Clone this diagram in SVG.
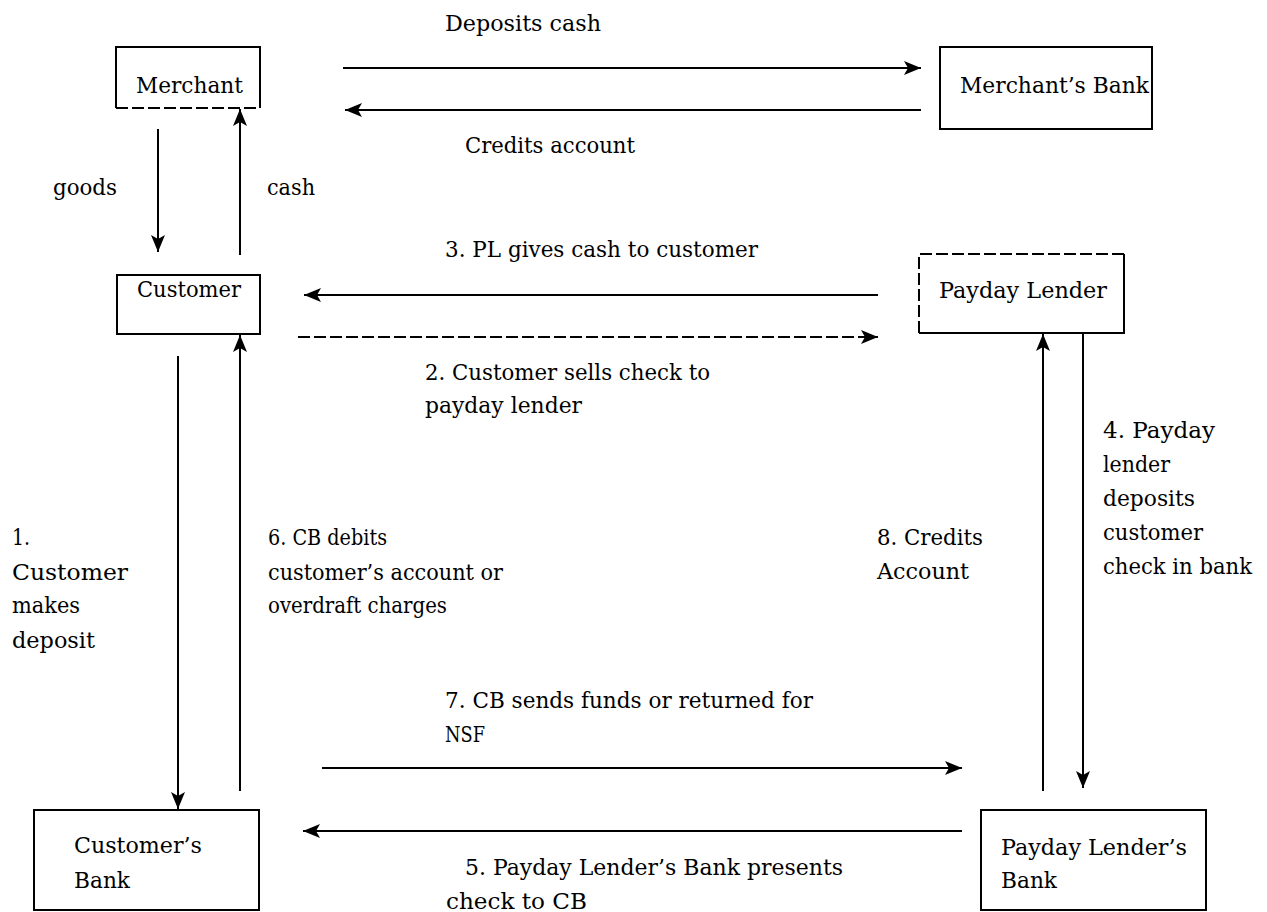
<svg xmlns="http://www.w3.org/2000/svg" width="1267" height="912" viewBox="0 0 1267 912">
<style>
.bg{fill:#fff}
.box{fill:#fff;stroke:#000;stroke-width:2}
.ln{fill:none;stroke:#000;stroke-width:2}
.dash{stroke-dasharray:12 4}
.arr{fill:none;stroke:#000;stroke-width:2;marker-end:url(#ah)}
text{font-family:"DejaVu Serif","Liberation Serif",serif;font-size:22.5px;fill:#000}
</style>
<defs>
<marker id="ah" markerUnits="userSpaceOnUse" markerWidth="18" markerHeight="14" refX="17" refY="7" orient="auto">
<path d="M0,0 L17,7 L0,14 L4,7 z" fill="#000"/>
</marker>
</defs>
<rect class="bg" x="0" y="0" width="1267" height="912"/>
<g id="merchant">
<path class="ln" d="M116,108 L116,47 L260,47 L260,108"/>
<line class="ln dash" x1="116" y1="108" x2="260" y2="108"/>
<text x="136" y="93" textLength="107" lengthAdjust="spacingAndGlyphs">Merchant</text>
</g>
<g id="merchants-bank">
<rect class="box" x="940" y="47" width="212" height="82"/>
<text x="960" y="93" textLength="189" lengthAdjust="spacingAndGlyphs">Merchant’s Bank</text>
</g>
<g id="customer">
<rect class="box" x="117" y="275" width="143" height="59"/>
<text x="137" y="297" textLength="104" lengthAdjust="spacingAndGlyphs">Customer</text>
</g>
<g id="payday-lender">
<path class="ln" d="M1124,254 L1124,333 L919,333"/>
<path class="ln dash" d="M919,333 L919,254 L1124,254"/>
<text x="939" y="298" textLength="168" lengthAdjust="spacingAndGlyphs">Payday Lender</text>
</g>
<g id="customers-bank">
<rect class="box" x="34" y="810" width="225" height="100"/>
<text x="74" y="853" textLength="128" lengthAdjust="spacingAndGlyphs">Customer’s</text>
<text x="74" y="888" textLength="56" lengthAdjust="spacingAndGlyphs">Bank</text>
</g>
<g id="payday-lenders-bank">
<rect class="box" x="981" y="810" width="225" height="100"/>
<text x="1001" y="855" textLength="186" lengthAdjust="spacingAndGlyphs">Payday Lender’s</text>
<text x="1001" y="888" textLength="56" lengthAdjust="spacingAndGlyphs">Bank</text>
</g>
<g id="connectors">
<line class="arr" x1="343" y1="68" x2="921" y2="68"/>
<line class="arr" x1="921" y1="110" x2="345" y2="110"/>
<line class="arr" x1="158" y1="129" x2="158" y2="252"/>
<line class="arr" x1="240" y1="255" x2="240" y2="109"/>
<line class="arr" x1="878" y1="295" x2="304" y2="295"/>
<line class="arr dash" x1="298" y1="337" x2="878" y2="337"/>
<line class="arr" x1="178" y1="356" x2="178" y2="809"/>
<line class="arr" x1="240" y1="791" x2="240" y2="335"/>
<line class="arr" x1="1043" y1="791" x2="1043" y2="334"/>
<line class="arr" x1="1083" y1="334" x2="1083" y2="788"/>
<line class="arr" x1="322" y1="768" x2="962" y2="768"/>
<line class="arr" x1="962" y1="831" x2="303" y2="831"/>
</g>
<g id="labels">
<text x="445" y="31" textLength="156" lengthAdjust="spacingAndGlyphs">Deposits cash</text>
<text x="465" y="153" textLength="170" lengthAdjust="spacingAndGlyphs">Credits account</text>
<text x="53" y="195" textLength="64" lengthAdjust="spacingAndGlyphs">goods</text>
<text x="267" y="195" textLength="48" lengthAdjust="spacingAndGlyphs">cash</text>
<text x="445" y="257" textLength="313" lengthAdjust="spacingAndGlyphs">3. PL gives cash to customer</text>
<text x="425" y="380" textLength="285" lengthAdjust="spacingAndGlyphs">2. Customer sells check to</text>
<text x="425" y="413" textLength="157" lengthAdjust="spacingAndGlyphs">payday lender</text>
<text x="12" y="545" textLength="18" lengthAdjust="spacingAndGlyphs">1.</text>
<text x="12" y="580" textLength="116" lengthAdjust="spacingAndGlyphs">Customer</text>
<text x="12" y="613" textLength="68" lengthAdjust="spacingAndGlyphs">makes</text>
<text x="12" y="648" textLength="83" lengthAdjust="spacingAndGlyphs">deposit</text>
<text x="268" y="545" textLength="119" lengthAdjust="spacingAndGlyphs">6. CB debits</text>
<text x="268" y="580" textLength="235" lengthAdjust="spacingAndGlyphs">customer’s account or</text>
<text x="268" y="613" textLength="179" lengthAdjust="spacingAndGlyphs">overdraft charges</text>
<text x="877" y="545" textLength="106" lengthAdjust="spacingAndGlyphs">8. Credits</text>
<text x="877" y="579" textLength="92" lengthAdjust="spacingAndGlyphs">Account</text>
<text x="1103" y="438" textLength="112" lengthAdjust="spacingAndGlyphs">4. Payday</text>
<text x="1103" y="472" textLength="67" lengthAdjust="spacingAndGlyphs">lender</text>
<text x="1103" y="506" textLength="92" lengthAdjust="spacingAndGlyphs">deposits</text>
<text x="1103" y="540" textLength="100" lengthAdjust="spacingAndGlyphs">customer</text>
<text x="1103" y="574" textLength="149" lengthAdjust="spacingAndGlyphs">check in bank</text>
<text x="445" y="708" textLength="368" lengthAdjust="spacingAndGlyphs">7. CB sends funds or returned for</text>
<text x="445" y="742" textLength="40" lengthAdjust="spacingAndGlyphs">NSF</text>
<text x="465" y="875" textLength="378" lengthAdjust="spacingAndGlyphs">5. Payday Lender’s Bank presents</text>
<text x="446" y="909" textLength="141" lengthAdjust="spacingAndGlyphs">check to CB</text>
</g>
</svg>
